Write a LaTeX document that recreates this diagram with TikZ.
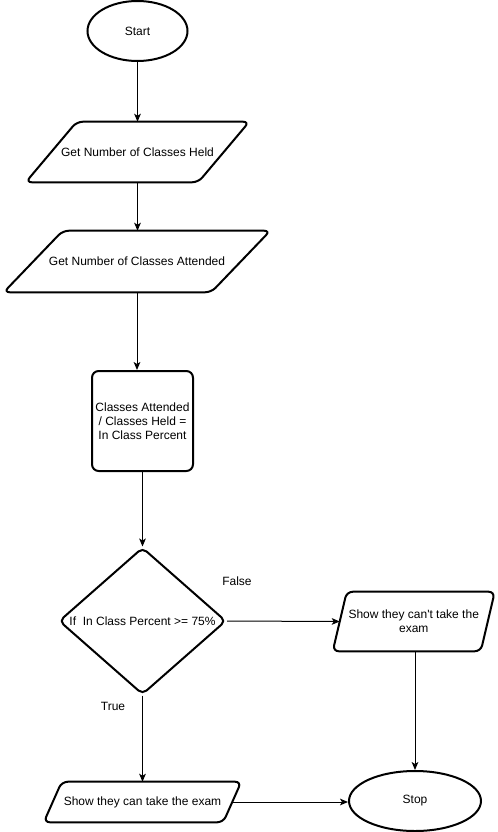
\documentclass[tikz,border=0pt]{standalone}
\usepackage{fontspec}
\newfontfamily\arial{Liberation Sans}
\usetikzlibrary{shapes.geometric,arrows.meta}
\begin{document}
\begin{tikzpicture}[x=0.75pt,y=-0.75pt,
  txt/.style={font=\arial\fontsize{9}{10.5}\selectfont,align=center,inner sep=0pt},
  shp/.style={draw=black,line width=1.5pt,rounded corners=4.5pt},
  term/.style={ellipse,draw=black,line width=1.5pt,inner sep=0pt,font=\arial\fontsize{9}{10.5}\selectfont},
  iobox/.style={txt,minimum width=#1},
  conn/.style={draw=black,line width=0.75pt,-{Stealth[length=6pt,width=5pt,inset=1.5pt]}},
  lbl/.style={font=\arial\fontsize{9}{10.5}\selectfont,inner sep=0pt}
]
\useasboundingbox (0,0) rectangle (498,832);

% Start
\node[term,minimum width=100*0.75pt,minimum height=60*0.75pt] (start) at (137.5,31) {Start};

% Parallelogram 1
\node[iobox=172*0.75pt,minimum height=60*0.75pt] (p1) at (137.5,152) {Get Number of Classes Held};
\draw[shp] ([xshift=25.5*0.75pt]p1.north west) -- ([xshift=25.5*0.75pt]p1.north east)
  -- ([xshift=-25.5*0.75pt]p1.south east) -- ([xshift=-25.5*0.75pt]p1.south west) -- cycle;

% Parallelogram 2
\node[iobox=207*0.75pt,minimum height=61*0.75pt] (p2) at (137,261.5) {Get Number of Classes Attended};
\draw[shp] ([xshift=29.5*0.75pt]p2.north west) -- ([xshift=29.5*0.75pt]p2.north east)
  -- ([xshift=-29.5*0.75pt]p2.south east) -- ([xshift=-29.5*0.75pt]p2.south west) -- cycle;

% Process box
\node[txt,shp,inner sep=0pt,minimum width=101*0.75pt,minimum height=100*0.75pt,rounded corners=5pt] (calc) at (142.5,421)
  {Classes Attended\\/ Classes Held =\\In Class Percent};

% Decision
\node[diamond,shp,inner sep=0pt,minimum width=167*0.75pt,minimum height=147*0.75pt,rounded corners=4pt] (dec) at (142.5,621) {};
\node[txt] (dectext) at (dec.center) {If\ \ In Class Percent >= 75\%};

% Parallelogram 3
\node[iobox=147.5*0.75pt,minimum height=59*0.75pt] (p3) at (413.75,621.5) {Show they can't take the\\exam};
\draw[shp] ([xshift=7*0.75pt]p3.north west) -- ([xshift=7*0.75pt]p3.north east)
  -- ([xshift=-7*0.75pt]p3.south east) -- ([xshift=-7*0.75pt]p3.south west) -- cycle;

% Parallelogram 4
\node[iobox=179*0.75pt,minimum height=40*0.75pt] (p4) at (142.5,802) {Show they can take the exam};
\draw[shp] ([xshift=9*0.75pt]p4.north west) -- ([xshift=9*0.75pt]p4.north east)
  -- ([xshift=-9*0.75pt]p4.south east) -- ([xshift=-9*0.75pt]p4.south west) -- cycle;

% Stop
\node[term,minimum width=132*0.75pt,minimum height=60*0.75pt] (stop) at (415,801) {Stop};

% Labels
\node[lbl] (false) at (237,581) {False};
\node[lbl] (true) at (113,706) {True};

% Connectors
\draw[conn] (start.south) -- (start.south |- p1.north);
\draw[conn] (start.south |- p1.south) -- (start.south |- p2.north);
\draw[conn] (p2.south) -- (p2.south |- calc.north);
\draw[conn] (calc.south) -- (dec.north);
\draw[conn] (dec.east) -- (p3.west);
\draw[conn] (dec.south) -- (dec.south |- p4.north);
\draw[conn] (stop.north |- p3.south) -- (stop.north);
\draw[conn] (p4.east) -- (p4.east -| stop.west);
\end{tikzpicture}
\end{document}
